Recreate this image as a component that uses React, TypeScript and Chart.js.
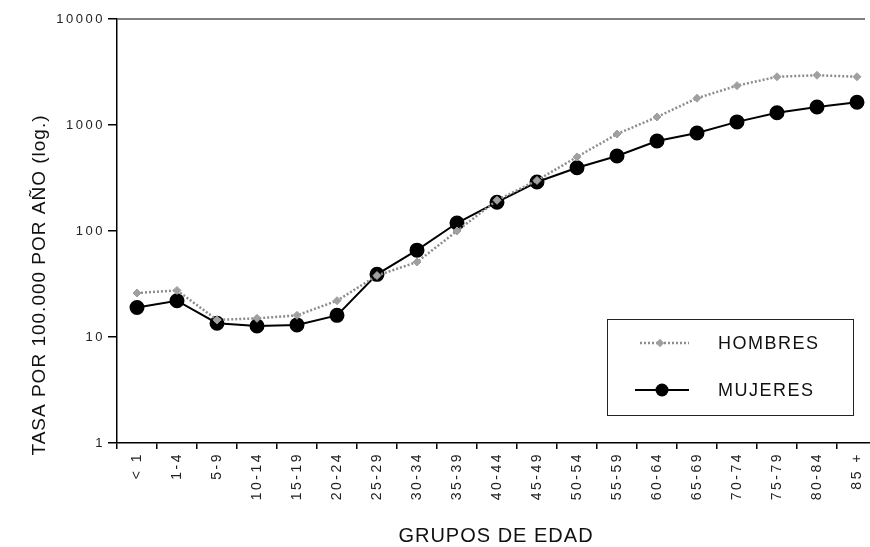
import React, { useEffect, useRef } from 'react';
import { Chart, registerables } from 'chart.js';

Chart.register(...registerables);

const AGE_GROUPS = ['< 1', '1-4', '5-9', '10-14', '15-19', '20-24', '25-29', '30-34', '35-39', '40-44', '45-49', '50-54', '55-59', '60-64', '65-69', '70-74', '75-79', '80-84', '85 +'];
const HOMBRES = [26, 27.5, 14.5, 15, 16, 22, 38, 51, 100, 195, 300, 500, 822, 1190, 1790, 2350, 2850, 2950, 2850];
const MUJERES = [19, 22, 13.5, 12.7, 13, 16, 39, 66, 119, 187, 290, 395, 510, 706, 840, 1070, 1306, 1480, 1640];
const Y_TICKS = [1, 10, 100, 1000, 10000];
const SERIES_NAMES = ['HOMBRES', 'MUJERES'];
const X_TITLE = 'GRUPOS DE EDAD';
const Y_TITLE = 'TASA POR 100.000 POR AÑO (log.)';

const FONT = '"Liberation Sans", Arial, Helvetica, sans-serif';
const GREY = '#8c8c8c';
const PLOT_RIGHT = 877; // plot area runs slightly past the picture's right edge

const decorPlugin = {
  id: 'decor',
  beforeUpdate(chart: any) {
    chart.ctx.letterSpacing = '2.5px';
  },
  afterLayout(chart: any) {
    const x = chart.scales.x;
    x.right = PLOT_RIGHT;
    x.width = x.right - x.left;
    chart.chartArea.right = PLOT_RIGHT;
    chart.chartArea.width = PLOT_RIGHT - chart.chartArea.left;
    x.configure();
  },
  beforeDraw(chart: any) {
    chart.ctx.letterSpacing = '2.5px';
  },
  afterDraw(chart: any) {
    const { ctx, chartArea } = chart;
    ctx.save();
    // top frame line
    ctx.strokeStyle = '#555';
    ctx.lineWidth = 1.5;
    ctx.beginPath();
    ctx.moveTo(chartArea.left, chartArea.top);
    ctx.lineTo(865, chartArea.top);
    ctx.stroke();

    // axis titles
    ctx.fillStyle = '#111';
    ctx.letterSpacing = '1px';
    ctx.font = `20px ${FONT}`;
    ctx.textAlign = 'center';
    ctx.textBaseline = 'middle';
    ctx.fillText(X_TITLE, 496, 536);

    ctx.save();
    ctx.font = `19px ${FONT}`;
    ctx.translate(40, 285);
    ctx.rotate(-Math.PI / 2);
    ctx.fillText(Y_TITLE, 0, 0);
    ctx.restore();

    // legend box
    const bx = 607, by = 319, bw = 246, bh = 96;
    ctx.fillStyle = '#fff';
    ctx.fillRect(bx, by, bw, bh);
    ctx.strokeStyle = '#222';
    ctx.lineWidth = 1;
    ctx.setLineDash([]);
    ctx.strokeRect(bx + 0.5, by + 0.5, bw, bh);

    // Hombres entry
    const y1 = 343;
    ctx.strokeStyle = GREY;
    ctx.lineWidth = 2.5;
    ctx.setLineDash([2, 2]);
    ctx.beginPath();
    ctx.moveTo(640, y1);
    ctx.lineTo(689, y1);
    ctx.stroke();
    ctx.setLineDash([]);
    ctx.fillStyle = '#a0a0a0';
    ctx.save();
    ctx.translate(660, y1);
    ctx.rotate(Math.PI / 4);
    ctx.fillRect(-3, -3, 6, 6);
    ctx.restore();

    // Mujeres entry
    const y2 = 390;
    ctx.strokeStyle = '#000';
    ctx.lineWidth = 2;
    ctx.beginPath();
    ctx.moveTo(635, y2);
    ctx.lineTo(689, y2);
    ctx.stroke();
    ctx.fillStyle = '#000';
    ctx.beginPath();
    ctx.arc(662, y2, 6.5, 0, Math.PI * 2);
    ctx.fill();

    ctx.fillStyle = '#111';
    ctx.font = `18px ${FONT}`;
    ctx.letterSpacing = '1.5px';
    ctx.textAlign = 'left';
    ctx.textBaseline = 'middle';
    ctx.fillText(SERIES_NAMES[0], 718, y1 + 1);
    ctx.fillText(SERIES_NAMES[1], 718, y2 + 1);
    ctx.restore();
  },
};

export default function App() {
  const ref = useRef<HTMLCanvasElement | null>(null);

  useEffect(() => {
    if (!ref.current) return;
    const chart = new Chart(ref.current, {
      type: 'line',
      data: {
        labels: AGE_GROUPS,
        datasets: [
          {
            label: SERIES_NAMES[0],
            data: HOMBRES,
            borderColor: GREY,
            borderWidth: 2.5,
            borderDash: [2, 2],
            pointStyle: 'rectRot',
            pointRadius: 4,
            pointBackgroundColor: '#a0a0a0',
            pointBorderColor: '#a0a0a0',
            pointBorderWidth: 1,
            tension: 0,
          },
          {
            label: SERIES_NAMES[1],
            data: MUJERES,
            borderColor: '#000',
            borderWidth: 2,
            pointStyle: 'circle',
            pointRadius: 6.5,
            pointBackgroundColor: '#000',
            pointBorderColor: '#000',
            tension: 0,
          },
        ],
      },
      options: {
        animation: false,
        responsive: false,
        maintainAspectRatio: false,
        layout: { padding: { top: 19, right: 0, left: 0, bottom: 0 } },
        plugins: {
          legend: { display: false },
          tooltip: { enabled: false },
        },
        scales: {
          x: {
            type: 'category',
            offset: true,
            grid: {
              display: true,
              offset: true,
              drawOnChartArea: false,
              drawTicks: true,
              tickLength: 6,
              color: '#000',
              lineWidth: 1.5,
            },
            border: { display: true, color: '#000', width: 1.5 },
            ticks: {
              autoSkip: false,
              minRotation: 90,
              maxRotation: 90,
              padding: 3,
              color: '#222',
              font: { family: FONT, size: 14 },
            },
            afterFit(scale: any) {
              scale.height = 104;
              scale.paddingRight = 0;
              scale.paddingLeft = 0;
            },
          },
          y: {
            type: 'logarithmic',
            min: 1,
            max: 10000,
            grid: {
              display: true,
              drawOnChartArea: false,
              drawTicks: true,
              tickLength: 9,
              color: '#000',
              lineWidth: 1.5,
            },
            border: { display: true, color: '#000', width: 1.5 },
            afterBuildTicks(scale: any) {
              scale.ticks = Y_TICKS.map((v) => ({ value: v }));
            },
            ticks: {
              padding: 3,
              color: '#222',
              font: { family: FONT, size: 13 },
              callback: (v: any) => String(v),
            },
            afterFit(scale: any) {
              scale.width = 117;
              scale.paddingTop = 0;
              scale.paddingBottom = 0;
            },
          },
        },
      },
      plugins: [decorPlugin],
    });
    return () => chart.destroy();
  }, []);

  return (
    <div style={{ position: 'absolute', left: 0, top: 0, width: 870, height: 547, background: '#fff' }}>
      <canvas ref={ref} width={870} height={547} style={{ width: 870, height: 547, display: 'block' }} />
    </div>
  );
}
